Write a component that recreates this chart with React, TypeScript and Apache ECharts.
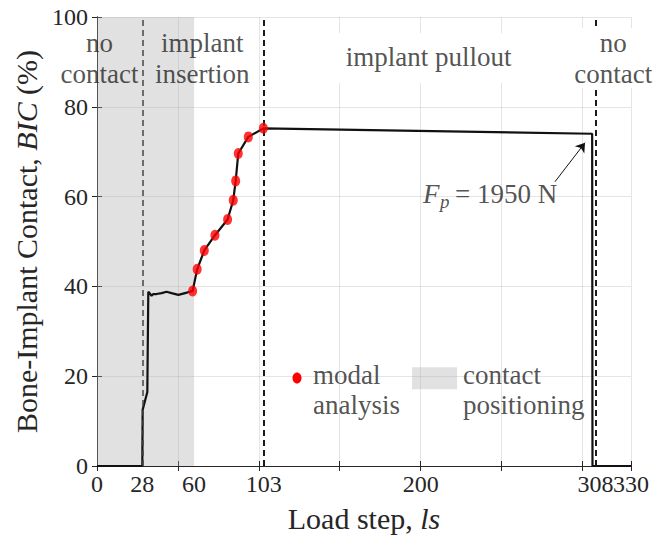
import React, { useEffect, useRef } from "react";
import * as echarts from "echarts";

// ---- data ----
const lsCurve = [0, 28, 28.2, 31.1, 31.7, 32.3, 33.7, 34.8, 36.8, 39.9, 43, 46.1, 50.3, 54.4, 57.5, 59.1, 61.9, 66.3, 72.9, 80.7, 84.2, 85.7, 87.3, 93.5, 102.8, 306, 306.2, 330];
const bicCurve = [0, 0, 12.5, 16.5, 38.8, 38.6, 37.9, 38.3, 38.3, 38.5, 38.8, 38.5, 38.1, 38.5, 38.8, 39.0, 43.8, 48.0, 51.4, 54.9, 59.2, 63.5, 69.6, 73.3, 75.2, 74.0, 0, 0];
const lsModal = [59.1, 61.9, 66.3, 72.9, 80.7, 84.2, 85.7, 87.3, 93.5, 102.8];
const bicModal = [39.0, 43.8, 48.0, 51.4, 54.9, 59.2, 63.5, 69.6, 73.3, 75.2];
const xTickLabels = [0, 28, 60, 103, 200, 308];
const xEndLabel = [330];
const phaseBounds = [28, 103, 308];
const contactZone = [0, 60];
const arrowTail = [283, 63.3];
const arrowHead = [301.6, 72];

// annotation text lines: [text, ls, BIC, align]
const textLines: [string, number, number, string][] = [
  ["no", 1.5, 94.1, "center"],
  ["contact", 1.5, 87.2, "center"],
  ["implant", 65, 94.1, "center"],
  ["insertion", 65, 87.2, "center"],
  ["implant pullout", 205, 91.2, "center"],
  ["no", 319, 94.1, "center"],
  ["contact", 319, 87.2, "center"],
  ["modal", 133.5, 20.2, "left"],
  ["analysis", 133.5, 13.5, "left"],
  ["contact", 226.2, 20.2, "left"],
  ["positioning", 226.2, 13.5, "left"],
];

const FONT = "Liberation Serif";
const TXT = "#262626";

export default function App() {
  const ref = useRef<HTMLDivElement>(null);
  useEffect(() => {
    if (!ref.current) return;
    const chart = echarts.init(ref.current, null, { renderer: "svg" });
    const curve = lsCurve.map((x, i) => [x, bicCurve[i]]);
    const modal = lsModal.map((x, i) => [x, bicModal[i]]);
    const axisCommon = {
      type: "value",
      axisLine: { show: true, lineStyle: { color: TXT, width: 1 } },
      axisTick: { show: true, inside: true, length: 5, lineStyle: { color: TXT } },
    };
    const tickFont = { fontFamily: FONT, fontSize: 24, color: TXT };
    const txt = (size: number, italic = false) => ({
      fontFamily: FONT,
      fontSize: size,
      fontStyle: italic ? "italic" : "normal",
      color: TXT,
    });

    const annotations: any[] = textLines.map(([t, x, y, al]) => ({
      value: [x, y],
      label: { formatter: t, ...txt(27), align: al, verticalAlign: "middle" },
    }));
    // F_p = 1950 N
    annotations.push({ value: [201.5, 60.5], label: { formatter: "F", ...txt(27, true), align: "left", verticalAlign: "middle" } });
    annotations.push({ value: [212, 59.0], label: { formatter: "p", ...txt(19, true), align: "left", verticalAlign: "middle" } });
    annotations.push({ value: [221.3, 60.5], label: { formatter: "= 1950 N", ...txt(27), align: "left", verticalAlign: "middle" } });

    chart.setOption({
      animation: false,
      textStyle: { fontFamily: FONT },
      grid: { left: 97, right: 26, top: 17, bottom: 74, containLabel: false },
      xAxis: [
        {
          ...axisCommon,
          min: 0,
          max: 330,
          interval: 50,
          position: "bottom",
          name: "Load step, {i|ls}",
          nameLocation: "middle",
          nameGap: 37,
          nameTextStyle: { ...txt(30), rich: { i: txt(30, true) } },
          axisLabel: { customValues: xTickLabels, ...tickFont, margin: 6 },
          splitLine: { show: true, lineStyle: { color: "rgba(38,38,38,0.12)", width: 1 } },
        },
        {
          ...axisCommon,
          min: 0,
          max: 330,
          interval: 50,
          position: "top",
          axisLabel: { show: false },
          splitLine: { show: false },
        },
        {
          type: "value",
          min: 0,
          max: 330,
          position: "bottom",
          axisLine: { show: false },
          axisTick: { show: false },
          splitLine: { show: false },
          axisLabel: { customValues: xEndLabel, ...tickFont, margin: 6 },
        },
      ],
      yAxis: [
        {
          ...axisCommon,
          min: 0,
          max: 100,
          interval: 20,
          position: "left",
          name: "Bone-Implant Contact, {i|BIC} (%)",
          nameLocation: "middle",
          nameGap: 55,
          nameRotate: 90,
          nameTextStyle: { ...txt(30), rich: { i: txt(30, true) } },
          axisLabel: { ...tickFont, margin: 9 },
          splitLine: { show: true, lineStyle: { color: "rgba(38,38,38,0.12)", width: 1 } },
        },
        {
          ...axisCommon,
          min: 0,
          max: 100,
          interval: 20,
          position: "right",
          axisLabel: { show: false },
          splitLine: { show: false },
        },
      ],
      series: [
        {
          type: "line",
          name: "BIC",
          data: curve,
          symbol: "none",
          lineStyle: { color: "#111", width: 2.2 },
          z: 3,
          markArea: {
            silent: true,
            itemStyle: { color: "rgba(170,170,170,0.35)" },
            data: [[{ xAxis: contactZone[0] }, { xAxis: contactZone[1] }]],
          },
          markLine: {
            silent: true,
            symbol: "none",
            label: { show: false },
            data: phaseBounds.map((x, i) => ({
              xAxis: x,
              lineStyle: {
                type: [6, 4],
                color: i === 0 ? "#444" : "#1a1a1a",
                width: i === 0 ? 1.5 : 2,
              },
            })),
          },
        },
        {
          type: "scatter",
          name: "modal analysis",
          data: modal,
          symbol: "circle",
          symbolSize: [9, 11],
          itemStyle: { color: "#ff0000" },
          z: 5,
          markLine: {
            silent: true,
            label: { show: false },
            symbolSize: 9,
            lineStyle: { color: "#111", width: 1, type: "solid" },
            data: [[{ coord: arrowTail, symbol: "none" }, { coord: arrowHead, symbol: "arrow" }]],
          },
        },
        {
          type: "scatter",
          name: "annotations",
          data: annotations,
          symbolSize: 0,
          silent: true,
          z: 20,
          label: { show: true, position: "inside", textBorderWidth: 0, color: TXT },
        },
      ],
    });

    const px = (x: number, y: number) =>
      chart.convertToPixel({ xAxisIndex: 0, yAxisIndex: 0 }, [x, y]) as number[];
    const dot = px(123.6, 19.6);
    const rectTL = px(194.7, 22);
    const rectBR = px(222.5, 17.1);
    const box = (x0: number, y0: number, x1: number, y1: number) => {
      const a = px(x0, y0);
      const b = px(x1, y1);
      return {
        type: "rect",
        z: 15,
        silent: true,
        shape: { x: a[0], y: a[1], width: b[0] - a[0], height: b[1] - a[1] },
        style: { fill: "#fff" },
      };
    };

    chart.setOption({
      graphic: [
        box(149, 96.4, 260.2, 85.3),
        box(293, 97.5, 345, 84.2),
        {
          type: "ellipse",
          z: 50,
          shape: { cx: dot[0], cy: dot[1], rx: 4.5, ry: 5.5 },
          style: { fill: "#ff0000" },
        },
        {
          type: "rect",
          z: 50,
          shape: { x: rectTL[0], y: rectTL[1], width: rectBR[0] - rectTL[0], height: rectBR[1] - rectTL[1] },
          style: { fill: "rgba(170,170,170,0.35)" },
        },
      ],
    });

    return () => chart.dispose();
  }, []);
  return (
    <div
      ref={ref}
      style={{ position: "fixed", left: 0, top: 0, width: 657, height: 540, background: "#fff" }}
    />
  );
}
